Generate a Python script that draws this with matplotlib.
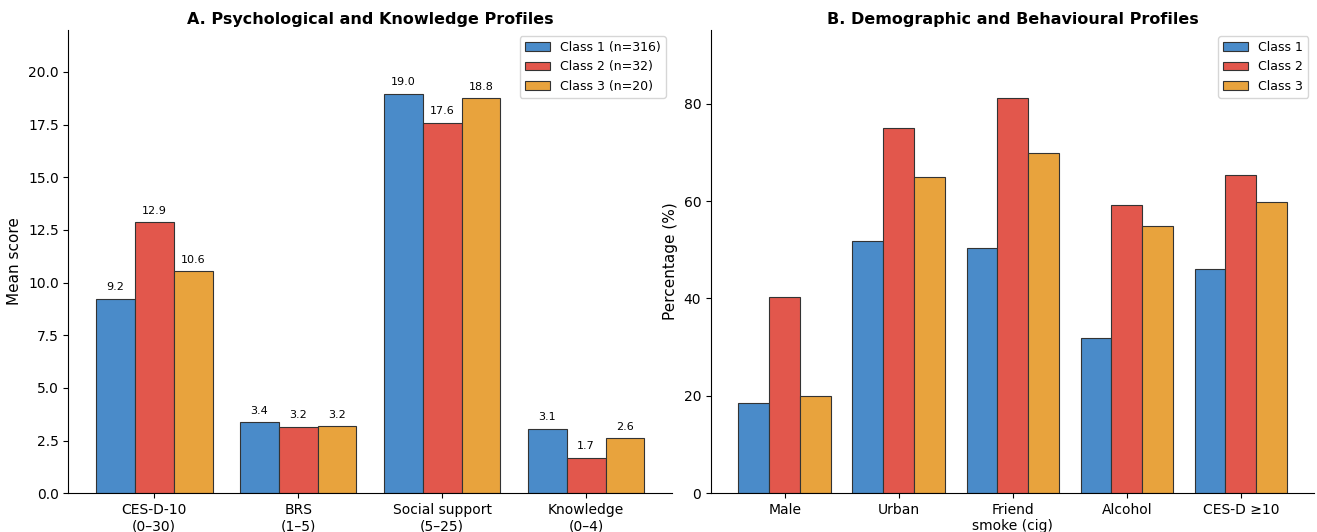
import numpy as np
import matplotlib.pyplot as plt

# Panel A: mean scores per class
psych_labels = ['CES-D-10\n(0–30)', 'BRS\n(1–5)', 'Social support\n(5–25)', 'Knowledge\n(0–4)']
psych_c1 = [9.24, 3.37, 18.97, 3.07]
psych_c2 = [12.87, 3.16, 17.59, 1.68]
psych_c3 = [10.55, 3.18, 18.75, 2.60]

# Panel B: percentages per class
demo_labels = ['Male', 'Urban', 'Friend\nsmoke (cig)', 'Alcohol', 'CES-D ≥10']
demo_c1 = [18.6, 51.8, 50.3, 31.9, 46.1]
demo_c2 = [40.4, 75.1, 81.1, 59.2, 65.4]
demo_c3 = [20.0, 65.0, 69.9, 54.8, 59.8]

colors = ['#4A8BC9', '#E2574C', '#E8A33D']
width = 0.27

fig, (ax1, ax2) = plt.subplots(1, 2, figsize=(13.17, 5.32), dpi=100)
plt.subplots_adjust(left=0.052, right=0.998, top=0.944, bottom=0.073, wspace=0.065)

# A
x = np.arange(len(psych_labels))
names_a = ['Class 1 (n=316)', 'Class 2 (n=32)', 'Class 3 (n=20)']
for i, (vals, name) in enumerate(zip([psych_c1, psych_c2, psych_c3], names_a)):
    bars = ax1.bar(x + (i - 1) * width, vals, width, color=colors[i],
                   edgecolor='#333333', linewidth=0.8, label=name)
    for b, v in zip(bars, vals):
        ax1.text(b.get_x() + b.get_width() / 2, v + 0.3, f'{v:.1f}',
                 ha='center', va='bottom', fontsize=8)
ax1.set_xticks(x)
ax1.set_xticklabels(psych_labels, fontsize=10)
ax1.set_yticks(np.arange(0, 20.1, 2.5))
ax1.set_ylim(0, 22.0)
ax1.set_ylabel('Mean score', fontsize=11)
ax1.set_title('A. Psychological and Knowledge Profiles', fontsize=11.5, fontweight='bold', pad=4)
ax1.legend(loc='upper right', fontsize=9)

# B
x = np.arange(len(demo_labels))
for i, vals in enumerate([demo_c1, demo_c2, demo_c3]):
    ax2.bar(x + (i - 1) * width, vals, width, color=colors[i],
            edgecolor='#333333', linewidth=0.8, label=f'Class {i + 1}')
ax2.set_xticks(x)
ax2.set_xticklabels(demo_labels, fontsize=10)
ax2.set_yticks(np.arange(0, 81, 20))
ax2.set_ylim(0, 95.2)
ax2.set_ylabel('Percentage (%)', fontsize=11)
ax2.set_title('B. Demographic and Behavioural Profiles', fontsize=11.5, fontweight='bold', pad=4)
ax2.legend(loc='upper right', fontsize=9)

for ax in (ax1, ax2):
    ax.spines['top'].set_visible(False)
    ax.spines['right'].set_visible(False)
    ax.tick_params(axis='y', labelsize=10)

plt.savefig('out.png')
